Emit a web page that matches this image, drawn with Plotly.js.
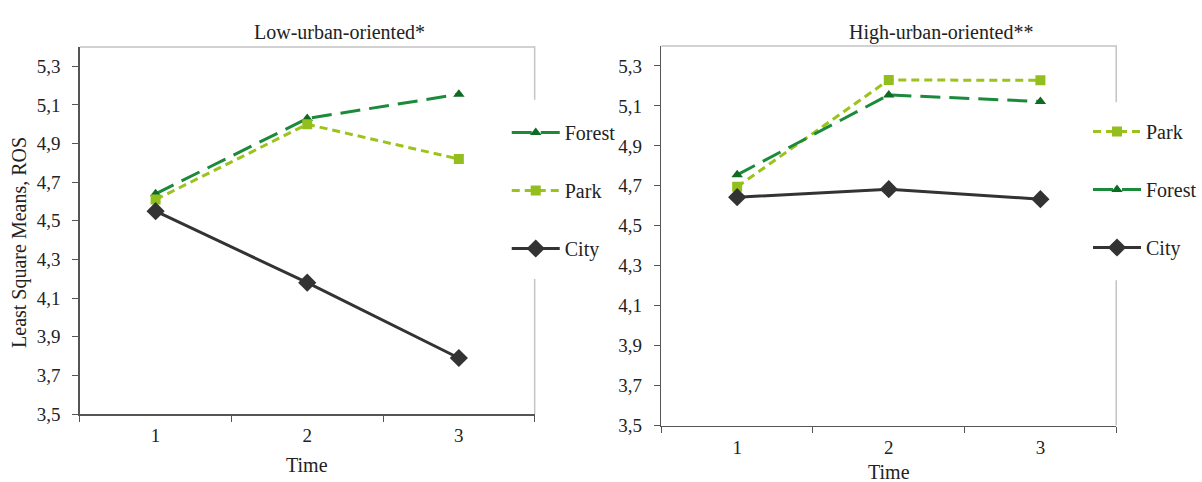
<!DOCTYPE html>
<html>
<head>
<meta charset="utf-8">
<script src="https://cdn.plot.ly/plotly-3.0.1.min.js"></script>
<style>html,body{margin:0;padding:0;background:#fff;}#chart{width:1202px;height:482px;}</style>
</head>
<body>
<div id="chart"></div>
<script>
const times = ["1", "2", "3"];
const lowForest = [4.64, 5.03, 5.155];
const lowPark = [4.61, 5.00, 4.82];
const lowCity = [4.55, 4.18, 3.79];
const highPark = [4.695, 5.23, 5.228];
const highForest = [4.755, 5.155, 5.122];
const highCity = [4.643, 4.683, 4.633];
const yTicks = [3.5, 3.7, 3.9, 4.1, 4.3, 4.5, 4.7, 4.9, 5.1, 5.3];
const panelTitles = ["Low-urban-oriented*", "High-urban-oriented**"];
const yTitle = "Least Square Means, ROS";
const xTitle = "Time";

const FONT = "Liberation Serif, Times New Roman, serif";
const forestStyle = {color: "#1b8a3a", dash: "20px,9px", marker: "#0d6b24"};
const parkStyle = {color: "#9cc21c", dash: "8px,5px", marker: "#93bf1e"};
const cityStyle = {color: "#333333", dash: "solid", marker: "#333333"};

function tr(name, y, st, sym, size, xa, ya, leg, rank) {
  return {
    x: times, y: y, name: name, type: "scatter", mode: "lines+markers",
    xaxis: xa, yaxis: ya, legend: leg, legendgroup: leg + name, legendrank: rank,
    line: {color: st.color, width: 3, dash: st.dash},
    marker: {symbol: sym, size: size, color: st.marker}
  };
}

const data = [
  tr("Forest", lowForest, forestStyle, "triangle-up", 10, "x", "y", "legend", 1),
  tr("Park", lowPark, parkStyle, "square", 10, "x", "y", "legend", 2),
  tr("City", lowCity, cityStyle, "diamond", 14, "x", "y", "legend", 3),
  tr("Park", highPark, parkStyle, "square", 10, "x2", "y2", "legend2", 1),
  tr("Forest", highForest, forestStyle, "triangle-up", 10, "x2", "y2", "legend2", 2),
  tr("City", highCity, cityStyle, "diamond", 14, "x2", "y2", "legend2", 3)
];

function xax(domain, anchor) {
  return {domain: domain, anchor: anchor, type: "category", range: [-0.5, 2.5], tickson: "boundaries",
    ticks: "outside", ticklen: 6, tickcolor: "#555", showline: true, linecolor: "#555", linewidth: 1.5,
    showgrid: false, zeroline: false, automargin: false, ticklabelstandoff: 4,
    tickfont: {family: FONT, size: 19, color: "#222"}};
}
function yax(domain, anchor) {
  return {domain: domain, anchor: anchor, range: [3.5, 5.4], tickvals: yTicks, tickformat: ".1f",
    ticks: "outside", ticklen: 6, tickcolor: "#555", showline: true, linecolor: "#555", linewidth: 1.5,
    showgrid: false, zeroline: false, automargin: false, ticklabelstandoff: 8,
    tickfont: {family: FONT, size: 19, color: "#222"}};
}
function border(xr, yr, g1, g2) {
  return {type: "path", xref: xr, yref: yr,
    path: "M 0 1 L 1 1 L 1 " + g1 + " M 1 " + g2 + " L 1 0",
    line: {color: "#c4c4c4", width: 1.5}, layer: "below"};
}
function legendCfg(x, y) {
  return {x: x, y: y, xanchor: "left", yanchor: "top", bgcolor: "rgba(255,255,255,0)",
    borderwidth: 0, tracegroupgap: 29, traceorder: "grouped", itemwidth: 48,
    font: {family: FONT, size: 20, color: "#222"}};
}

const layout = {
  width: 1202, height: 482, margin: {l: 0, r: 0, t: 0, b: 0},
  paper_bgcolor: "#fff", plot_bgcolor: "rgba(0,0,0,0)", separators: ", ",
  showlegend: true,
  xaxis: xax([80/1202, 536/1202], "y"),
  yaxis: yax([1 - 414/482, 1 - 47/482], "x"),
  xaxis2: xax([663/1202, 1119/1202], "y2"),
  yaxis2: yax([1 - 425.5/482, 1 - 46/482], "x2"),
  legend: legendCfg(508/1202, 1 - 113/482),
  legend2: legendCfg(1091/1202, 1 - 112/482),
  shapes: [border("x domain", "y domain", 0.856, 0.368), border("x2 domain", "y2 domain", 0.852, 0.383)],
  annotations: [
    {text: panelTitles[0], x: 253/1202, y: 1 - 19/482, xref: "paper", yref: "paper", xanchor: "left", showarrow: false, font: {family: FONT, size: 20, color: "#222"}},
    {text: panelTitles[1], x: 849/1202, y: 1 - 19/482, xref: "paper", yref: "paper", xanchor: "left", showarrow: false, font: {family: FONT, size: 20, color: "#222"}},
    {text: yTitle, x: 19/1202, y: 1 - 242/482, xref: "paper", yref: "paper", xanchor: "center", yanchor: "middle", showarrow: false, textangle: -90, font: {family: FONT, size: 20, color: "#222"}},
    {text: xTitle, x: 308/1202, y: 1 - 465/482, xref: "paper", yref: "paper", xanchor: "center", yanchor: "middle", showarrow: false, font: {family: FONT, size: 20, color: "#222"}},
    {text: xTitle, x: 891/1202, y: 1 - 472/482, xref: "paper", yref: "paper", xanchor: "center", yanchor: "middle", showarrow: false, font: {family: FONT, size: 20, color: "#222"}}
  ]
};

Plotly.newPlot("chart", data, layout, {staticPlot: true, displayModeBar: false});
</script>
</body>
</html>
